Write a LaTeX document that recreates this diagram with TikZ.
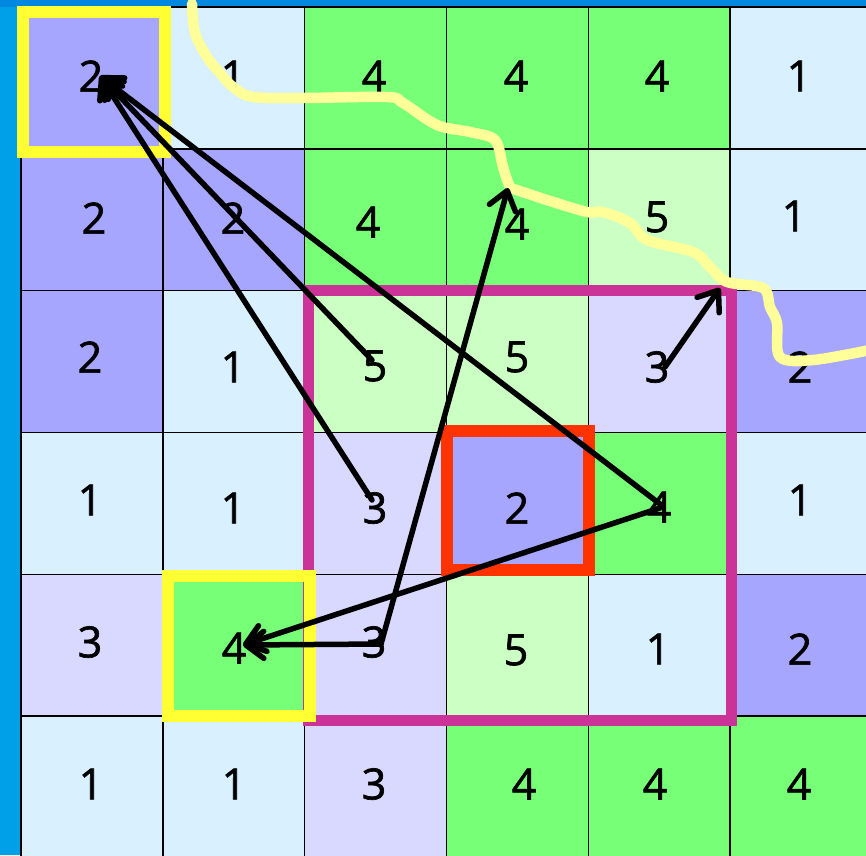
\documentclass[tikz,border=0pt]{standalone}
\usepackage{fontspec}
\setmainfont{Open Sans}
\newfontfamily\numfont{Open Sans}[FakeBold=1.5]
\usetikzlibrary{arrows.meta}
\definecolor{lb}{HTML}{D8F0FF}
\definecolor{pu}{HTML}{A6A6FF}
\definecolor{la}{HTML}{D9D9FF}
\definecolor{gr}{HTML}{77FF77}
\definecolor{lg}{HTML}{CCFFC4}
\definecolor{magc}{HTML}{CC3399}
\definecolor{redc}{HTML}{FF3300}
\definecolor{ybox}{HTML}{FFFF33}
\definecolor{ypath}{HTML}{FFFF99}
\definecolor{blueL}{HTML}{00A0E9}
\definecolor{blueT}{HTML}{0088E0}
\newcommand\gcell[3]{\fill[#3] ({21+141.8*#1},{7+141.8*#2}) rectangle ++(141.8,141.8);}
\begin{document}
\begin{tikzpicture}[x=1pt,y=-1pt,
  num/.style={font=\numfont\fontsize{43}{43}\selectfont, text=black, inner sep=0pt, anchor=center},
  gridline/.style={black, line width=1.4pt},
  magbox/.style={draw=magc, line width=11pt},
  yelbox/.style={draw=ybox, line width=12pt},
  redbox/.style={draw=redc, line width=12pt},
  wavy/.style={draw=ypath, line width=10.5pt, line cap=round, line join=round},
  arr/.style={draw=black, line width=5.5pt, line cap=round, -{Straight Barb[length=18pt,width=27pt,round]}}]
\useasboundingbox (0,0) rectangle (866,855);
\clip (0,0) rectangle (866,855);
\fill[blueL] (0,0) rectangle (21,855);
\fill[blueT] (0,0) rectangle (866,7);
% row 0
\gcell{0}{0}{pu}\gcell{1}{0}{lb}\gcell{2}{0}{gr}\gcell{3}{0}{gr}\gcell{4}{0}{gr}\gcell{5}{0}{lb}
% row 1
\gcell{0}{1}{pu}\gcell{1}{1}{pu}\gcell{2}{1}{gr}\gcell{3}{1}{gr}\gcell{4}{1}{lg}\gcell{5}{1}{lb}
% row 2
\gcell{0}{2}{pu}\gcell{1}{2}{lb}\gcell{2}{2}{lg}\gcell{3}{2}{lg}\gcell{4}{2}{la}\gcell{5}{2}{pu}
% row 3
\gcell{0}{3}{lb}\gcell{1}{3}{lb}\gcell{2}{3}{la}\gcell{3}{3}{pu}\gcell{4}{3}{gr}\gcell{5}{3}{lb}
% row 4
\gcell{0}{4}{la}\gcell{1}{4}{gr}\gcell{2}{4}{la}\gcell{3}{4}{lg}\gcell{4}{4}{lb}\gcell{5}{4}{pu}
% row 5
\gcell{0}{5}{lb}\gcell{1}{5}{lb}\gcell{2}{5}{la}\gcell{3}{5}{gr}\gcell{4}{5}{gr}\gcell{5}{5}{gr}
% grid lines
\foreach \i in {0,...,6} {
  \draw[gridline] ({21+141.8*\i},7) -- ({21+141.8*\i},870);
  \draw[gridline] (21,{7+141.8*\i}) -- (880,{7+141.8*\i});
}
% digits
\node[num] (n00) at (91,76) {2};
\node[num] (n01) at (233,76) {1};
\node[num] (n02) at (374,76) {4};
\node[num] (n03) at (516,76) {4};
\node[num] (n04) at (657,76) {4};
\node[num] (n05) at (799,76) {1};
\node[num] (n10) at (94,218) {2};
\node[num] (n11) at (233,218) {2};
\node[num] (n12) at (368,222) {4};
\node[num] (n13) at (517,224) {4};
\node[num] (n14) at (657,217) {5};
\node[num] (n15) at (794,216) {1};
\node[num] (n20) at (90,357) {2};
\node[num] (n21) at (233,367) {1};
\node[num] (n22) at (375,366) {5};
\node[num] (n23) at (517,357) {5};
\node[num] (n24) at (657,367) {3};
\node[num] (n25) at (800,367) {2};
\node[num] (n30) at (90,500) {1};
\node[num] (n31) at (233,508) {1};
\node[num] (n32) at (375,508) {3};
\node[num] (n33) at (517,508) {2};
\node[num] (n34) at (659,507) {4};
\node[num] (n35) at (800,500) {1};
\node[num] (n40) at (90,642) {3};
\node[num] (n41) at (234,648) {4};
\node[num] (n42) at (374,642) {3};
\node[num] (n43) at (516,650) {5};
\node[num] (n44) at (658,649) {1};
\node[num] (n45) at (800,649) {2};
\node[num] (n50) at (91,784) {1};
\node[num] (n51) at (234,784) {1};
\node[num] (n52) at (374,784) {3};
\node[num] (n53) at (524,784) {4};
\node[num] (n54) at (655,784) {4};
\node[num] (n55) at (799,784) {4};
% boxes
\draw[magbox] (308,290) rectangle (731,720);
\draw[yelbox] (23,12) rectangle (164.5,151.5);
\draw[yelbox] (168,576) rectangle (309.5,716);
\draw[redbox] (447,431) rectangle (589,570);
% wavy yellow path
\draw[wavy] plot[smooth, tension=0.55] coordinates {
 (192,4) (195,33) (207,57) (220,73) (233,87) (253,97) (303,98) (387,97) (403,103)
 (437,125) (470,132) (495,140) (503,167) (510,187) (517,190) (547,200) (587,212)
 (603,212) (630,223) (647,240) (693,252) (710,267) (727,282) (763,288) (770,307)
 (777,323) (780,357) (813,360) (870,350)};
% arrow end points
\coordinate (tipA) at (100,76);
\coordinate (s22) at (372,360);
\coordinate (s32) at (372,500);
\coordinate (s34a) at (660,504);
\coordinate (s34b) at (660,508);
\coordinate (tipB) at (243,645);
\coordinate (s42) at (381,644);
\coordinate (tipC) at (508,188);
\coordinate (s24) at (665,367);
\coordinate (tipD) at (720,288);
\draw[arr] (s22) -- (tipA);
\draw[arr] (s32) -- (tipA);
\draw[arr] (s34a) -- (tipA);
\draw[arr] (s34b) -- (tipB);
\draw[arr] (s42) -- (tipB);
\draw[arr] (s42) -- (tipC);
\draw[arr] (s24) -- (tipD);
\end{tikzpicture}
\end{document}
